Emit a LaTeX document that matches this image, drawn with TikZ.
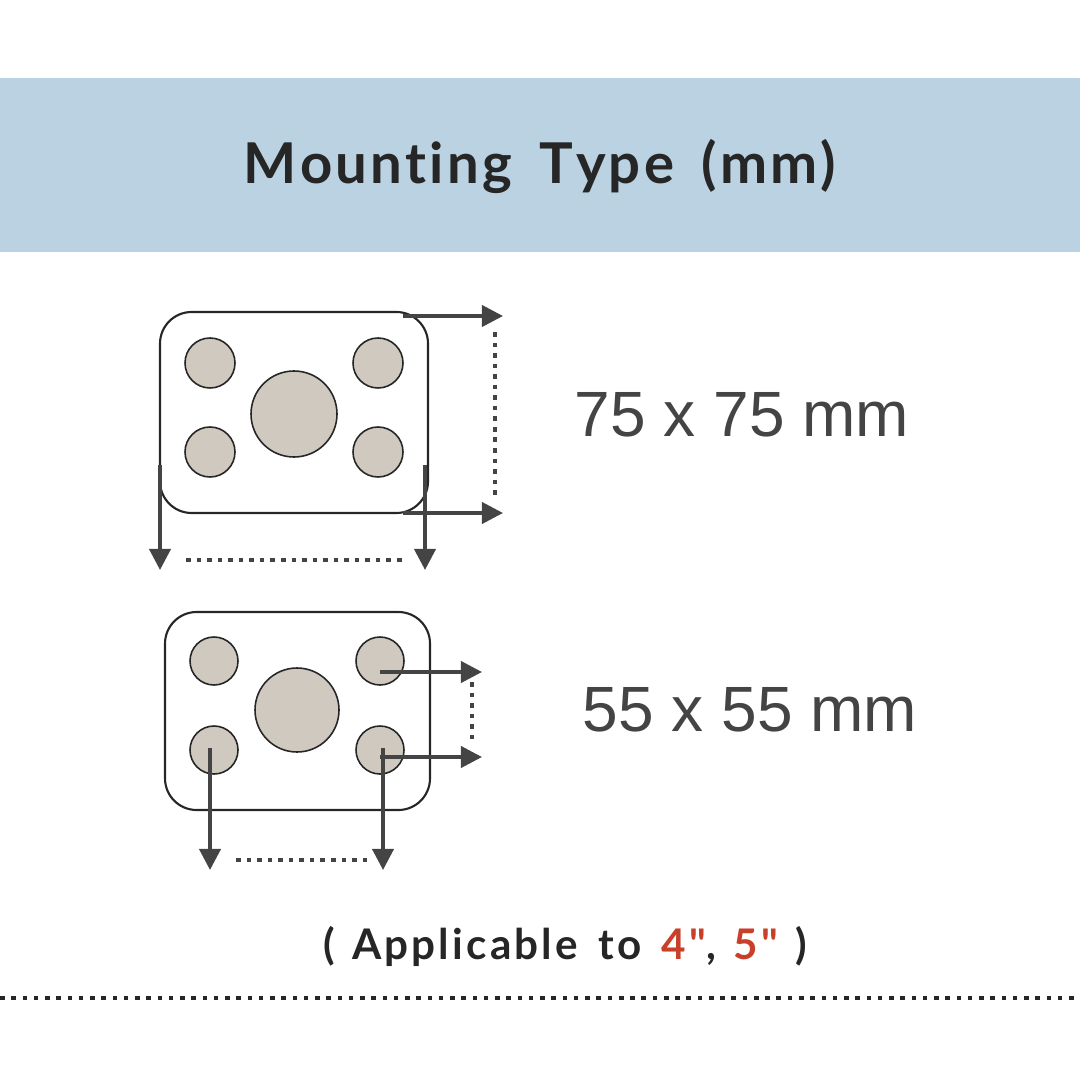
\documentclass[tikz,border=0pt]{standalone}
\usepackage{fontspec}
\setmainfont{Lato}
\newfontfamily\labelfont{Liberation Sans}
\usetikzlibrary{arrows.meta}
\definecolor{banner}{HTML}{BAD2E2}
\definecolor{hole}{HTML}{CFC9C0}
\definecolor{ink}{HTML}{444444}
\definecolor{accent}{HTML}{C8402A}
\newcommand{\ks}{\kern0.9pt}
\tikzset{
  plate/.style={draw=black!85,line width=0.6pt,rounded corners=9pt},
  holedot/.style={draw=black!85,line width=0.45pt,fill=hole},
  dimarrow/.style={draw=ink,line width=1.1pt,-{Triangle[length=6pt,width=6pt]}},
  dimdots/.style={draw=ink,line width=1.3pt,dash pattern=on 1.3pt off 1.7pt},
  sizetext/.style={text=ink,font=\labelfont\fontsize{18.2}{18.2}\selectfont}
}
\begin{document}
\begin{tikzpicture}[x=0.01cm,y=-0.01cm]
\useasboundingbox (0,0) rectangle (1080,1080);
\fill[banner] (0,78) rectangle (1080,252);
\node[font=\bfseries\fontsize{16}{16}\selectfont,text=black!85] (title) at (540,167)
  {M\ks o\ks u\ks n\ks t\ks i\ks n\ks g\ \ T\ks y\ks p\ks e\ \ (\ks m\ks m\ks )};
% large plate
\draw[plate] (160,312) rectangle (428,513);
\foreach \x/\y in {210/363,378/363,210/452,378/452}
  \draw[holedot] (\x,\y) circle (25);
\draw[holedot] (294,414) circle (43);
\draw[dimarrow] (403,316) -- (503,316);
\draw[dimarrow] (403,513) -- (503,513);
\draw[dimdots] (495,332) -- (495,498);
\draw[dimarrow] (160,465) -- (160,570);
\draw[dimarrow] (425,465) -- (425,570);
\draw[dimdots] (186,560) -- (404,560);
\node[sizetext] (big) at (742,415) {75 x 75 mm};
% small plate
\draw[plate] (165,612) rectangle (430,810);
\foreach \x/\y in {214/661,380/661,214/750,380/750}
  \draw[holedot] (\x,\y) circle (24);
\draw[holedot] (297,710) circle (42);
\draw[dimarrow] (380,672) -- (482,672);
\draw[dimarrow] (380,757) -- (482,757);
\draw[dimdots] (472,682) -- (472,745);
\draw[dimarrow] (210,748) -- (210,870);
\draw[dimarrow] (383,748) -- (383,870);
\draw[dimdots] (236,860) -- (372,860);
\node[sizetext] (small) at (750,710) {55 x 55 mm};
% note
\node[font=\bfseries\fontsize{12}{12}\selectfont,text=black!85] (note) at (565,946)
  {( \,A\ks p\ks p\ks l\ks i\ks c\ks a\ks b\ks l\ks e \ t\ks o \ \textcolor{accent}{4\ks\textquotedbl}, \,\textcolor{accent}{5\ks\textquotedbl} \,)};
\draw[draw=black!85,line width=1.3pt,dash pattern=on 1.3pt off 1.9pt] (0,998) -- (1080,998);
\end{tikzpicture}
\end{document}
